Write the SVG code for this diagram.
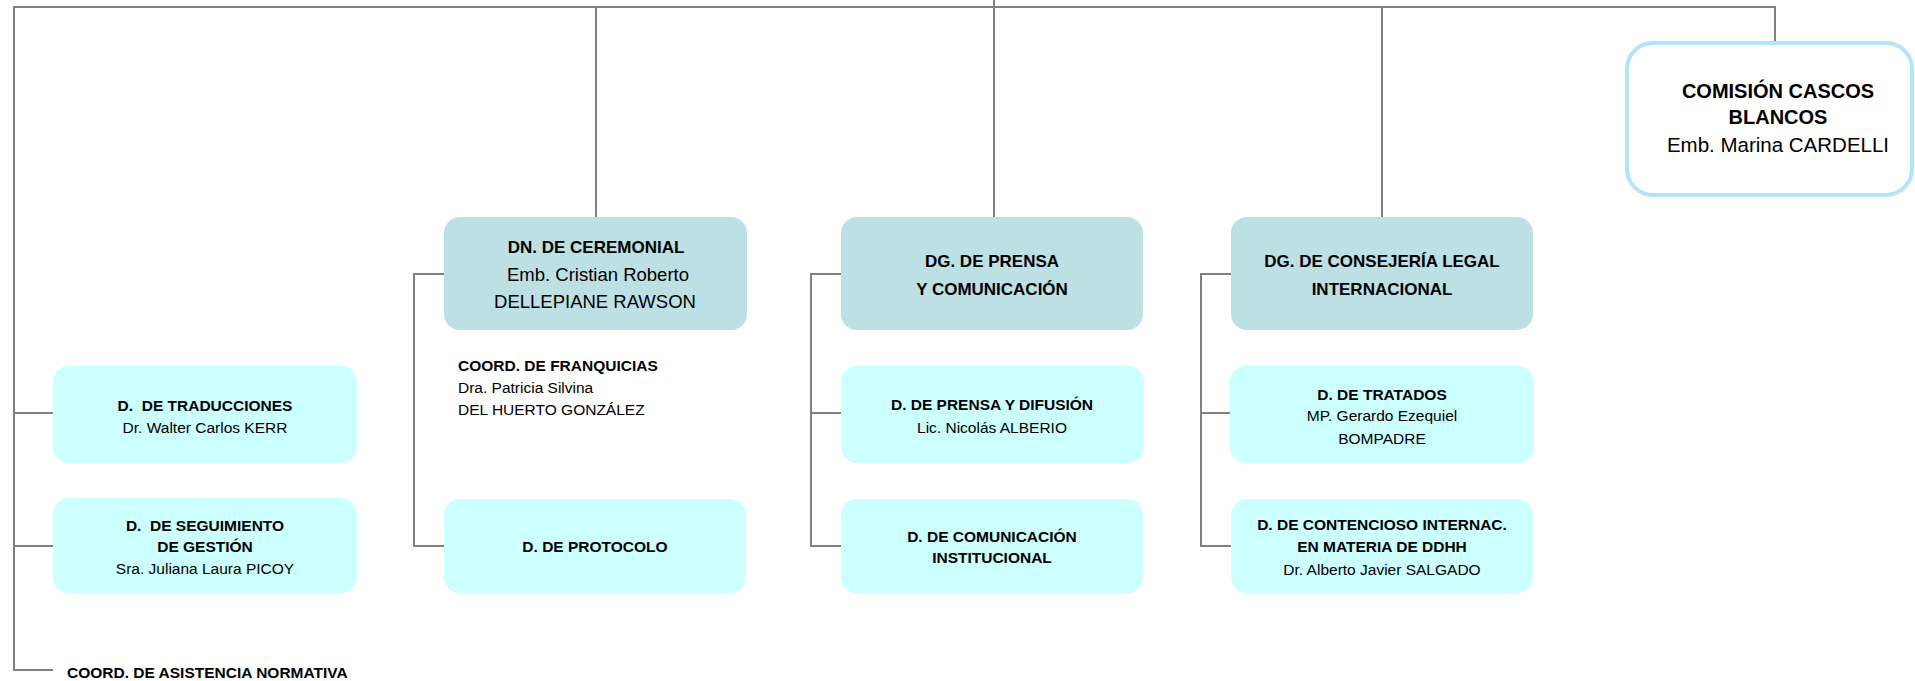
<svg xmlns="http://www.w3.org/2000/svg" width="1915" height="681" viewBox="0 0 1915 681">
<style>
.ln{fill:none;stroke:#808080;stroke-width:2}
.top{fill:#bce0e3}
.sub{fill:#ccffff}
.t{font-family:"Liberation Sans",Arial,sans-serif;fill:#000;text-anchor:middle}
.b{font-weight:bold}
.bb{font-size:17px}
.br{font-size:18.5px}
.sb{font-size:15.5px}
.sr{font-size:15.5px}
.l{text-anchor:start}
</style>
<rect width="1915" height="681" fill="#fff"/>
<g id="connectors">
<path class="ln" d="M994,0 V7"/>
<path class="ln" d="M53,670 H14 V7 H1775 V43"/>
<path class="ln" d="M596,7 V217"/>
<path class="ln" d="M994,7 V217"/>
<path class="ln" d="M1382,7 V217"/>
<path class="ln" d="M14,413 H53 M14,546 H53"/>
<path class="ln" d="M444,274 H414 V546 H444"/>
<path class="ln" d="M841,274 H811 V546 H841 M811,413 H841"/>
<path class="ln" d="M1231,274 H1201 V546 H1231 M1201,413 H1230"/>
</g>
<g id="comision">
<rect x="1627" y="43" width="285" height="152" rx="26" fill="#fff" stroke="#b4e4f7" stroke-width="4"/>
<text class="t b" x="1778" y="98" font-size="20">COMISIÓN CASCOS</text>
<text class="t b" x="1778" y="124" font-size="20">BLANCOS</text>
<text class="t" x="1778" y="152" font-size="20.5">Emb. Marina CARDELLI</text>
</g>
<g id="ceremonial">
<rect class="top" x="444" y="217" width="303" height="113" rx="16"/>
<text class="t b bb" x="596" y="253">DN. DE CEREMONIAL</text>
<text class="t br" x="598" y="281">Emb. Cristian Roberto</text>
<text class="t br" x="595" y="308">DELLEPIANE RAWSON</text>
</g>
<g id="dg-prensa">
<rect class="top" x="841" y="217" width="302" height="113" rx="16"/>
<text class="t b bb" x="992" y="267">DG. DE PRENSA</text>
<text class="t b bb" x="992" y="295">Y COMUNICACIÓN</text>
</g>
<g id="dg-consejeria">
<rect class="top" x="1231" y="217" width="302" height="113" rx="16"/>
<text class="t b bb" x="1382" y="267">DG. DE CONSEJERÍA LEGAL</text>
<text class="t b bb" x="1382" y="295">INTERNACIONAL</text>
</g>
<g id="traducciones">
<rect class="sub" x="53" y="366" width="304" height="97" rx="16"/>
<text class="t b sb" x="205" y="411" xml:space="preserve">D.  DE TRADUCCIONES</text>
<text class="t sr" x="205" y="433">Dr. Walter Carlos KERR</text>
</g>
<g id="seguimiento">
<rect class="sub" x="53" y="498" width="304" height="95" rx="16"/>
<text class="t b sb" x="205" y="531" xml:space="preserve">D.  DE SEGUIMIENTO</text>
<text class="t b sb" x="205" y="552">DE GESTIÓN</text>
<text class="t sr" x="205" y="574">Sra. Juliana Laura PICOY</text>
</g>
<g id="asistencia">
<text class="t b sb l" x="67" y="678">COORD. DE ASISTENCIA NORMATIVA</text>
</g>
<g id="franquicias">
<text class="t b sb l" x="458" y="371">COORD. DE FRANQUICIAS</text>
<text class="t sr l" x="458" y="393">Dra. Patricia Silvina</text>
<text class="t sr l" x="458" y="415">DEL HUERTO GONZÁLEZ</text>
</g>
<g id="protocolo">
<rect class="sub" x="444" y="499" width="302" height="94" rx="16"/>
<text class="t b sb" x="595" y="552">D. DE PROTOCOLO</text>
</g>
<g id="prensa-difusion">
<rect class="sub" x="841" y="366" width="303" height="97" rx="16"/>
<text class="t b sb" x="992" y="410">D. DE PRENSA Y DIFUSIÓN</text>
<text class="t sr" x="992" y="433">Lic. Nicolás ALBERIO</text>
</g>
<g id="comunicacion">
<rect class="sub" x="841" y="499" width="302" height="94" rx="16"/>
<text class="t b sb" x="992" y="542">D. DE COMUNICACIÓN</text>
<text class="t b sb" x="992" y="563">INSTITUCIONAL</text>
</g>
<g id="tratados">
<rect class="sub" x="1230" y="366" width="304" height="97" rx="16"/>
<text class="t b sb" x="1382" y="400">D. DE TRATADOS</text>
<text class="t sr" x="1382" y="421">MP. Gerardo Ezequiel</text>
<text class="t sr" x="1382" y="444">BOMPADRE</text>
</g>
<g id="contencioso">
<rect class="sub" x="1231" y="499" width="302" height="94" rx="16"/>
<text class="t b sb" x="1382" y="530">D. DE CONTENCIOSO INTERNAC.</text>
<text class="t b sb" x="1382" y="552">EN MATERIA DE DDHH</text>
<text class="t sr" x="1382" y="575">Dr. Alberto Javier SALGADO</text>
</g>
</svg>
